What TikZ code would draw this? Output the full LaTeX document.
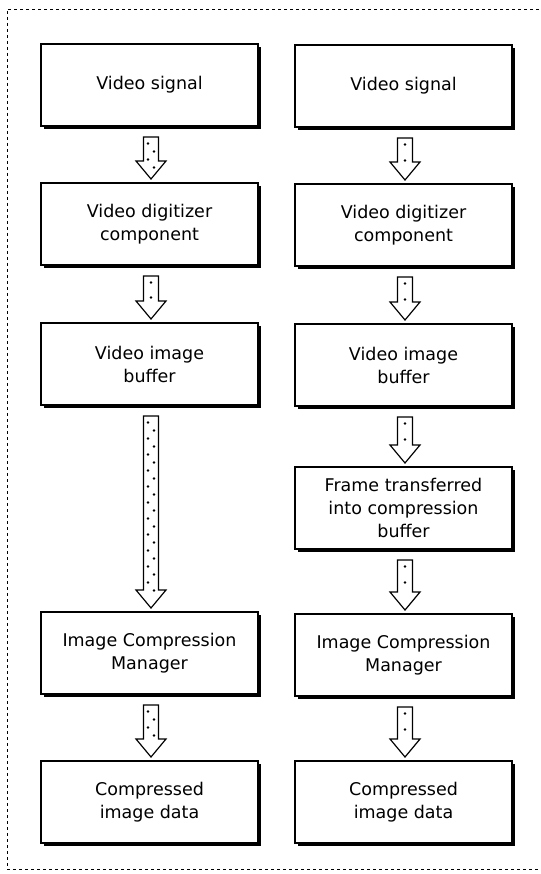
\documentclass[tikz,border=0pt]{standalone}
\usepackage{fontspec}
\setmainfont{DejaVu Sans}
\usetikzlibrary{calc,shadows}
\tikzset{
  stepbox/.style={draw=black, line width=1.3pt, fill=white, rectangle,
    minimum width=217pt, minimum height=82pt, align=center, inner sep=2pt, outer sep=0pt,
    font=\fontsize{17.5}{23}\selectfont,
    drop shadow={shadow xshift=3pt, shadow yshift=-3pt, fill=black, opacity=1}},
  flowline/.style={draw=black, line width=1.2pt, fill=white, line join=miter},
  flowdot/.style={fill=black},
  frame/.style={draw=black, line width=0.9pt, dash pattern=on 3pt off 3pt}
}
% #1 from node, #2 to node, #3 last dot index, #4 dot spacing, #5 zigzag offset
\newcommand\flowarrow[5]{%
  \coordinate (t) at ($(#1.south)+(1.5,11)$);
  \coordinate (e) at ($(#2.north)+(1.5,-4)$);
  \coordinate (h) at ($(e)+(0,-18)$);
  \draw[flowline] ($(t)+(-7.5,0)$) -- ($(t)+(7.5,0)$) -- ($(h)+(7.5,0)$) -- ($(h)+(15,0)$)
     -- (e) -- ($(h)+(-15,0)$) -- ($(h)+(-7.5,0)$) -- cycle;
  \foreach \i [evaluate=\i as \dx using {ifthenelse(mod(\i,2)==0,-#5,#5)}] in {0,...,#3}
    \fill[flowdot] ($(t)+(\dx,6.5+#4*\i)$) circle (1.35pt);
}
\begin{document}
\begin{tikzpicture}[x=1pt,y=-1pt]
\useasboundingbox (0,0) rectangle (540,874);
\draw[frame] (539,9) -- (7,9) -- (7,869) -- (539,869);

% left column
\node[stepbox] (l1) at (149.5,85)  {Video signal};
\node[stepbox] (l2) at (149.5,224) {Video digitizer\\component};
\node[stepbox] (l3) at (149.5,364) {Video image\\buffer};
\node[stepbox] (l4) at (149.5,653) {Image Compression\\Manager};
\node[stepbox] (l5) at (149.5,802) {Compressed\\image data};

% right column
\node[stepbox] (r1) at (403.5,86)  {Video signal};
\node[stepbox] (r2) at (403.5,225) {Video digitizer\\component};
\node[stepbox] (r3) at (403.5,365) {Video image\\buffer};
\node[stepbox] (r4) at (403.5,508) {Frame transferred\\into compression\\buffer};
\node[stepbox] (r5) at (403.5,655) {Image Compression\\Manager};
\node[stepbox] (r6) at (403.5,802) {Compressed\\image data};

% left arrows
\flowarrow{l1}{l2}{3}{8}{3}
\flowarrow{l2}{l3}{1}{15}{0}
\flowarrow{l3}{l4}{21}{8}{3}
\flowarrow{l4}{l5}{3}{8}{3}

% right arrows
\flowarrow{r1}{r2}{1}{16}{0}
\flowarrow{r2}{r3}{1}{16}{0}
\flowarrow{r3}{r4}{1}{16}{0}
\flowarrow{r4}{r5}{1}{16}{0}
\flowarrow{r5}{r6}{1}{16}{0}
\end{tikzpicture}
\end{document}
